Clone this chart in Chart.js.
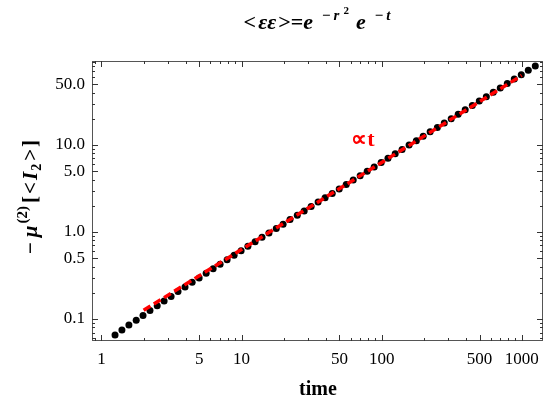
<!DOCTYPE html>
<html>
<head>
<meta charset="utf-8">
<script src="https://cdn.jsdelivr.net/npm/chart.js@4.4.1/dist/chart.umd.min.js"></script>
<style>
  html, body { margin: 0; padding: 0; background: #fff; }
  #wrap { width: 547px; height: 401px; position: relative; }
</style>
</head>
<body>
<div id="wrap"><canvas id="corrChart" width="547" height="401"></canvas></div>
<script>
// time values of the black points
var timeValues = [1.25, 1.40, 1.57, 1.77, 1.98, 2.22, 2.50, 2.80, 3.14, 3.52,
    3.95, 4.44, 4.98, 5.59, 6.27, 7.03, 7.89, 8.85, 9.93, 11.1,
    12.5, 14.0, 15.7, 17.7, 19.8, 22.2, 25.0, 28.0, 31.4, 35.2,
    39.5, 44.4, 49.8, 55.9, 62.7, 70.3, 78.9, 88.5, 99.3, 111,
    125, 140, 157, 177, 198, 222, 250, 280, 314, 352,
    395, 444, 498, 559, 627, 703, 789, 885, 993, 1114, 1250];

// -mu^(2)[<I2>] for each time
var muValues = [0.0655, 0.0748, 0.0853, 0.0970, 0.110, 0.125, 0.142, 0.161, 0.182, 0.207,
    0.233, 0.264, 0.297, 0.335, 0.378, 0.426, 0.480, 0.541, 0.610, 0.687,
    0.775, 0.870, 0.977, 1.10, 1.23, 1.39, 1.56, 1.75, 1.96, 2.21,
    2.48, 2.78, 3.13, 3.51, 3.95, 4.43, 4.98, 5.59, 6.28, 7.06,
    7.93, 8.90, 10.0, 11.2, 12.6, 14.2, 15.9, 17.9, 20.1, 22.6,
    25.4, 28.5, 32.0, 35.9, 40.4, 45.3, 50.9, 57.2, 64.3, 72.2, 81.1];

// the "proportional to t" guide line
var fitTimes = [2, 1000];
var fitValues = [0.126, 63];

var xTickValues = [1, 5, 10, 50, 100, 500, 1000];
var xTickLabels = ['1', '5', '10', '50', '100', '500', '1000'];
var yTickValues = [0.1, 0.5, 1, 5, 10, 50];
var yTickLabels = ['0.1', '0.5', '1.0', '5.0', '10.0', '50.0'];

var serif = '"Liberation Serif", "Times New Roman", serif';

function minorTicks(min, max, majors) {
    var out = [];
    for (var e = -3; e <= 4; e++) {
        for (var m = 1; m <= 9; m++) {
            var v = m * Math.pow(10, e);
            if (v >= min && v <= max && majors.indexOf(v) < 0) out.push(v);
        }
    }
    return out;
}

// draws a run of text pieces with their own fonts and vertical offsets
function drawRich(ctx, parts, x, y) {
    var total = 0;
    parts.forEach(function (p) {
        ctx.font = p.font;
        total += ctx.measureText(p.text).width + (p.gap || 0);
    });
    var cx = x - total / 2;
    parts.forEach(function (p) {
        ctx.font = p.font;
        ctx.fillText(p.text, cx, y + (p.dy || 0));
        cx += ctx.measureText(p.text).width + (p.gap || 0);
    });
}

var framePlugin = {
    id: 'frame',
    beforeDatasetsDraw: function (chart) {
        var ctx = chart.ctx, a = chart.chartArea;
        var xs = chart.scales.x, ys = chart.scales.y;
        ctx.save();
        ctx.strokeStyle = '#555';
        ctx.lineWidth = 1;
        ctx.strokeRect(a.left + 0.5, a.top + 0.5, a.right - a.left - 1, a.bottom - a.top - 1);

        ctx.strokeStyle = '#333';
        function xTick(v, len) {
            var px = Math.round(xs.getPixelForValue(v)) + 0.5;
            ctx.beginPath();
            ctx.moveTo(px, a.bottom); ctx.lineTo(px, a.bottom - len);
            ctx.moveTo(px, a.top); ctx.lineTo(px, a.top + len);
            ctx.stroke();
        }
        function yTick(v, len) {
            var py = Math.round(ys.getPixelForValue(v)) + 0.5;
            ctx.beginPath();
            ctx.moveTo(a.left, py); ctx.lineTo(a.left + len, py);
            ctx.moveTo(a.right, py); ctx.lineTo(a.right - len, py);
            ctx.stroke();
        }
        xTickValues.forEach(function (v) { xTick(v, 6); });
        minorTicks(xs.min, xs.max, xTickValues).forEach(function (v) { xTick(v, 3); });
        yTickValues.forEach(function (v) { yTick(v, 6); });
        minorTicks(ys.min, ys.max, yTickValues).forEach(function (v) { yTick(v, 3); });
        ctx.restore();
    },
    afterDraw: function (chart) {
        var ctx = chart.ctx;
        ctx.save();
        ctx.fillStyle = '#000';
        ctx.textBaseline = 'alphabetic';
        ctx.textAlign = 'left';

        // title
        var bi = 'italic bold 22px ' + serif;
        var sup = 'italic bold 15px ' + serif;
        var supUp = 'bold 15px ' + serif;
        drawRich(ctx, [
            { text: '<', font: 'bold 22px ' + serif, gap: 2 },
            { text: 'εε', font: bi, gap: 2 },
            { text: '>=', font: 'bold 22px ' + serif },
            { text: 'e', font: bi, gap: 9 },
            { text: '−', font: supUp, dy: -9, gap: 3 },
            { text: 'r', font: sup, dy: -9, gap: 4 },
            { text: '2', font: 'bold 11px ' + serif, dy: -15, gap: 7 },
            { text: 'e', font: bi, gap: 9 },
            { text: '−', font: supUp, dy: -9, gap: 3 },
            { text: 't', font: sup, dy: -9 }
        ], 317, 29);

        // x axis title
        ctx.font = 'bold 20px ' + serif;
        ctx.textAlign = 'center';
        ctx.fillText('time', 318, 395);
        ctx.textAlign = 'left';

        // y axis title
        ctx.translate(37, 197);
        ctx.rotate(-Math.PI / 2);
        var b = 'bold 21px ' + serif;
        var bit = 'italic bold 21px ' + serif;
        drawRich(ctx, [
            { text: '−', font: b, gap: 5 },
            { text: 'μ', font: bit, gap: 2 },
            { text: '(2)', font: 'bold 15px ' + serif, dy: -10, gap: 3 },
            { text: '[', font: b, gap: 2 },
            { text: '<', font: b, gap: 2 },
            { text: 'I', font: bit, gap: 1 },
            { text: '2', font: 'bold 14px ' + serif, dy: 4, gap: 3 },
            { text: '>', font: b, gap: 2 },
            { text: ']', font: b }
        ], 0, 0);
        ctx.restore();

        // annotation
        ctx.save();
        ctx.fillStyle = '#ff0000';
        ctx.font = 'bold 22px ' + serif;
        ctx.textAlign = 'center';
        ctx.fillText('∝t', 363, 146);
        ctx.restore();
    }
};

var ctx = document.getElementById('corrChart').getContext('2d');
var pointData = timeValues.map(function (t, i) { return { x: t, y: muValues[i] }; });
var fitData = fitTimes.map(function (t, i) { return { x: t, y: fitValues[i] }; });

var corrChart = new Chart(ctx, {
    type: 'scatter',
    data: {
        datasets: [{
            label: 'fit',
            type: 'line',
            data: fitData,
            borderColor: '#ff0000',
            borderWidth: 3.5,
            borderDash: [8, 4],
            pointRadius: 0,
            fill: false,
            order: 0
        }, {
            label: 'points',
            data: pointData,
            backgroundColor: '#000',
            borderWidth: 0,
            pointRadius: 3.5,
            order: 1
        }]
    },
    options: {
        responsive: false,
        animation: false,
        devicePixelRatio: 1,
        layout: { padding: { top: 61, right: 2, left: 0, bottom: 0 } },
        plugins: { legend: { display: false }, tooltip: { enabled: false } },
        scales: {
            x: {
                type: 'logarithmic',
                min: 0.856,
                max: 1419,
                grid: { display: false, drawTicks: false },
                border: { display: false },
                afterBuildTicks: function (scale) {
                    scale.ticks = xTickValues.map(function (v) { return { value: v }; });
                },
                afterFit: function (scale) { scale.height = 60; },
                ticks: {
                    autoSkip: false,
                    maxRotation: 0,
                    padding: 8,
                    color: '#000',
                    font: { family: serif, size: 17 },
                    callback: function (v, i) { return xTickLabels[i]; }
                }
            },
            y: {
                type: 'logarithmic',
                min: 0.0559,
                max: 92.4,
                grid: { display: false, drawTicks: false },
                border: { display: false },
                afterBuildTicks: function (scale) {
                    scale.ticks = yTickValues.map(function (v) { return { value: v }; });
                },
                afterFit: function (scale) { scale.width = 92; },
                ticks: {
                    autoSkip: false,
                    padding: 7,
                    color: '#000',
                    font: { family: serif, size: 17 },
                    callback: function (v, i) { return yTickLabels[i]; }
                }
            }
        }
    },
    plugins: [framePlugin]
});
</script>
</body>
</html>
